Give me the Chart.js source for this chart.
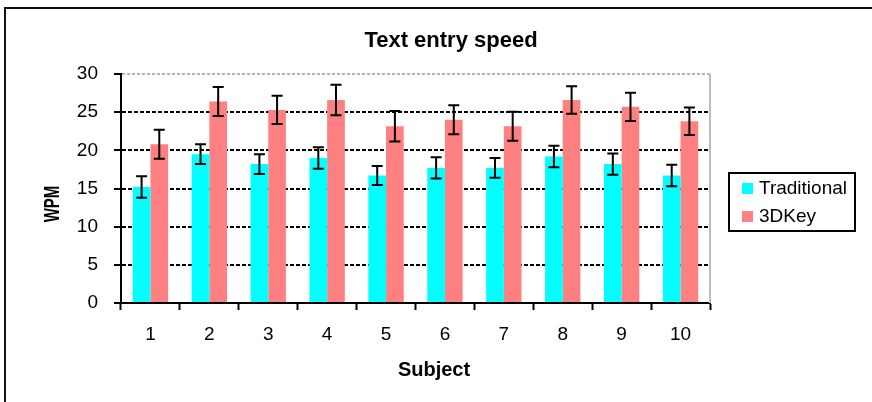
<!DOCTYPE html>
<html lang="en">
<head>
  <meta charset="UTF-8">
  <title>Text entry speed</title>
  <script src="https://cdn.jsdelivr.net/npm/chart.js"></script>
  <style>
    html, body {
      margin: 0;
      padding: 0;
      background: #fff;
      overflow: hidden;
    }
    #wrap {
      position: relative;
      width: 872px;
      height: 402px;
    }
  </style>
</head>
<body>
  <div id="wrap"><canvas id="speedChart"></canvas></div>

  <script>
    const subjects = ['1', '2', '3', '4', '5', '6', '7', '8', '9', '10'];
    const traditional = [15.2, 19.5, 18.2, 19.0, 16.7, 17.7, 17.7, 19.2, 18.2, 16.7];
    const traditionalErr = [1.4, 1.3, 1.3, 1.4, 1.25, 1.4, 1.3, 1.4, 1.4, 1.4];
    const key3d = [20.8, 26.4, 25.3, 26.6, 23.15, 24.0, 23.15, 26.6, 25.7, 23.8];
    const key3dErr = [1.9, 1.9, 1.85, 2.0, 2.0, 1.9, 1.9, 1.8, 1.85, 1.8];
    const yMin = 0, yMax = 30, yStep = 5;

    const FONT = "'Liberation Sans', Arial, sans-serif";

    // whiskers drawn on top of each bar
    const errorBars = {
      id: 'errorBars',
      afterDatasetsDraw(chart) {
        const ctx = chart.ctx;
        const y = chart.scales.y;
        ctx.save();
        ctx.strokeStyle = '#000';
        ctx.lineWidth = 2;
        chart.data.datasets.forEach((ds, i) => {
          const meta = chart.getDatasetMeta(i);
          meta.data.forEach((bar, j) => {
            const v = ds.data[j], e = ds.errorBars[j];
            const top = y.getPixelForValue(v + e);
            const bot = y.getPixelForValue(v - e);
            ctx.beginPath();
            ctx.moveTo(bar.x, top); ctx.lineTo(bar.x, bot);
            ctx.moveTo(bar.x - 5.5, top); ctx.lineTo(bar.x + 5.5, top);
            ctx.moveTo(bar.x - 5.5, bot); ctx.lineTo(bar.x + 5.5, bot);
            ctx.stroke();
          });
        });
        ctx.restore();
      }
    };

    // frame, titles, plot border and boxed legend (Excel style)
    const decorations = {
      id: 'decorations',
      beforeDatasetsDraw(chart) {
        const {ctx, chartArea} = chart;
        ctx.save();
        ctx.strokeStyle = '#bdbdbd';
        ctx.lineWidth = 2;
        ctx.beginPath();
        ctx.moveTo(chartArea.right, chartArea.top);
        ctx.lineTo(chartArea.right, chartArea.bottom);
        ctx.stroke();
        ctx.restore();
      },
      afterDraw(chart) {
        const ctx = chart.ctx;
        ctx.save();

        // outer frame
        ctx.strokeStyle = '#111';
        ctx.lineWidth = 2;
        ctx.strokeRect(5, 8, 1000, 1000);

        ctx.fillStyle = '#000';
        ctx.textAlign = 'center';
        ctx.textBaseline = 'alphabetic';
        ctx.font = 'bold 22px ' + FONT;
        ctx.fillText('Text entry speed', 451, 47);

        ctx.font = 'bold 20px ' + FONT;
        ctx.fillText('Subject', 434, 376);

        ctx.save();
        ctx.translate(52.5, 204);
        ctx.rotate(-Math.PI / 2);
        ctx.scale(0.68, 1);
        ctx.textBaseline = 'middle';
        ctx.font = 'bold 22px ' + FONT;
        ctx.fillText('WPM', 0, 0);
        ctx.restore();

        // legend
        ctx.strokeStyle = '#000';
        ctx.lineWidth = 2;
        ctx.strokeRect(729, 173, 126, 58);
        ctx.textAlign = 'left';
        ctx.textBaseline = 'middle';
        ctx.font = '19px ' + FONT;
        const rows = [189, 217];
        chart.data.datasets.forEach((ds, i) => {
          ctx.fillStyle = ds.backgroundColor;
          ctx.fillRect(742, rows[i] - 6, 11, 11);
          ctx.fillStyle = '#000';
          ctx.fillText(ds.label, 759, rows[i]);
        });

        ctx.restore();
      }
    };

    new Chart(document.getElementById('speedChart'), {
      type: 'bar',
      data: {
        labels: subjects,
        datasets: [
          {
            label: 'Traditional',
            data: traditional,
            errorBars: traditionalErr,
            backgroundColor: '#00ffff',
            borderWidth: 0
          },
          {
            label: '3DKey',
            data: key3d,
            errorBars: key3dErr,
            backgroundColor: '#ff8080',
            borderWidth: 0
          }
        ]
      },
      options: {
        responsive: true,
        maintainAspectRatio: false,
        animation: false,
        categoryPercentage: 0.6,
        barPercentage: 1.0,
        layout: { padding: { top: 74, right: 162, bottom: 0, left: 0 } },
        plugins: {
          legend: { display: false },
          title: { display: false },
          tooltip: { enabled: false }
        },
        scales: {
          x: {
            offset: true,
            grid: {
              display: true,
              offset: true,
              drawOnChartArea: false,
              drawTicks: true,
              tickLength: 7,
              tickColor: '#000',
              tickWidth: 2
            },
            border: { color: '#000', width: 2 },
            ticks: {
              color: '#000',
              font: { family: FONT, size: 19 },
              padding: 13,
              maxRotation: 0,
              autoSkip: false
            },
            afterFit: s => { s.height = 99; }
          },
          y: {
            min: yMin,
            max: yMax,
            ticks: {
              stepSize: yStep,
              color: '#000',
              font: { family: FONT, size: 19 },
              padding: 16
            },
            grid: {
              color: c => {
                const v = c.tick ? c.tick.value : null;
                if (v === yMax) return '#b4b4b4';
                if (v === yMin) return 'rgba(0,0,0,0)';
                return '#000';
              },
              lineWidth: 2,
              drawTicks: true,
              tickLength: 7,
              tickColor: '#000',
              tickWidth: 2,
              tickBorderDash: []
            },
            border: {
              color: '#000',
              width: 2,
              dash: c => (c.tick && c.tick.value === yMax) ? [3, 2] : [4, 2]
            },
            afterFit: s => { s.width = 121; }
          }
        }
      },
      plugins: [errorBars, decorations]
    });
  </script>
</body>
</html>
